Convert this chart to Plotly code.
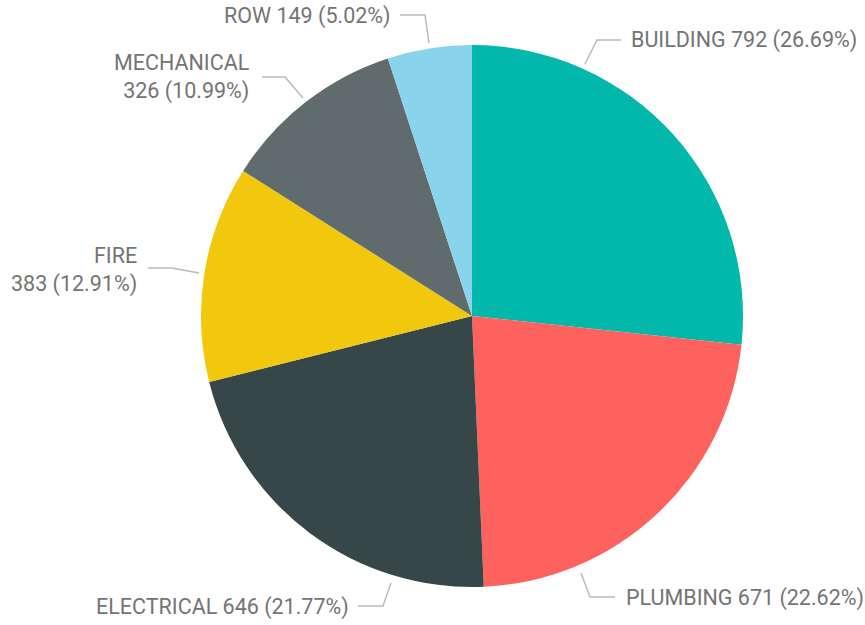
import plotly.graph_objects as go

# ---- data ----
categories = ["BUILDING", "PLUMBING", "ELECTRICAL", "FIRE", "MECHANICAL", "ROW"]
counts = [792, 671, 646, 383, 326, 149]
colors = ["#01B8AA", "#FD625E", "#374649", "#F2C80F", "#5F6B6D", "#8AD4EB"]

# ---- layout settings (pixels in an 865x625 canvas) ----
W, H = 865, 625
pie_box = dict(left=201, right=743, top=45, bottom=587)
# label anchor (x, y, xanchor, two-line?) and leader line points
label_pos = {
    "BUILDING":   (629, 40, "left", False),
    "PLUMBING":   (624, 598, "left", False),
    "ELECTRICAL": (351, 607, "right", False),
    "FIRE":       (139, 270, "right", True),
    "MECHANICAL": (252, 77, "right", True),
    "ROW":        (393, 16, "right", False),
}
leaders = {
    "BUILDING":   [(585, 64), (597, 40), (621, 40)],
    "PLUMBING":   [(581, 573), (590, 597), (615, 597)],
    "ELECTRICAL": [(391, 583), (383, 606), (358, 606)],
    "FIRE":       [(199, 273), (172, 268), (148, 268)],
    "MECHANICAL": [(303, 98), (285, 77), (262, 77)],
    "ROW":        [(429, 43), (425, 15), (400, 15)],
}

def px(x):
    return x / W

def py(y):
    return 1 - y / H

total = sum(counts)

fig = go.Figure(go.Pie(
    labels=categories,
    values=counts,
    sort=False,
    direction="clockwise",
    rotation=0,
    marker=dict(colors=colors, line=dict(width=0)),
    textinfo="none",
    hoverinfo="label+value+percent",
    showlegend=False,
    domain=dict(x=[px(pie_box["left"]), px(pie_box["right"])],
                y=[py(pie_box["bottom"]), py(pie_box["top"])]),
))

font = dict(family="Roboto, Arial, sans-serif", size=21.5, color="#747474")
annotations = []
shapes = []
for cat, val in zip(categories, counts):
    pct = val / total * 100
    x, y, xa, two = label_pos[cat]
    sep = "<br>" if two else " "
    text = f"{cat}{sep}{val} ({pct:.2f}%)"
    annotations.append(dict(
        x=px(x), y=py(y), xref="paper", yref="paper",
        xanchor=xa, yanchor="middle", align=xa,
        text=text, showarrow=False, font=font,
    ))
    pts = leaders[cat]
    path = "M " + " L ".join(f"{px(a)},{py(b)}" for a, b in pts)
    shapes.append(dict(type="path", xref="paper", yref="paper", path=path,
                       line=dict(color="#BBBBBB", width=1.5)))

fig.update_layout(
    width=W, height=H,
    margin=dict(l=0, r=0, t=0, b=0),
    paper_bgcolor="white",
    plot_bgcolor="white",
    annotations=annotations,
    shapes=shapes,
)

fig.write_html("out.html",
               config={"displayModeBar": False},
               post_script="document.body.style.margin='0';document.body.style.overflow='hidden';")
